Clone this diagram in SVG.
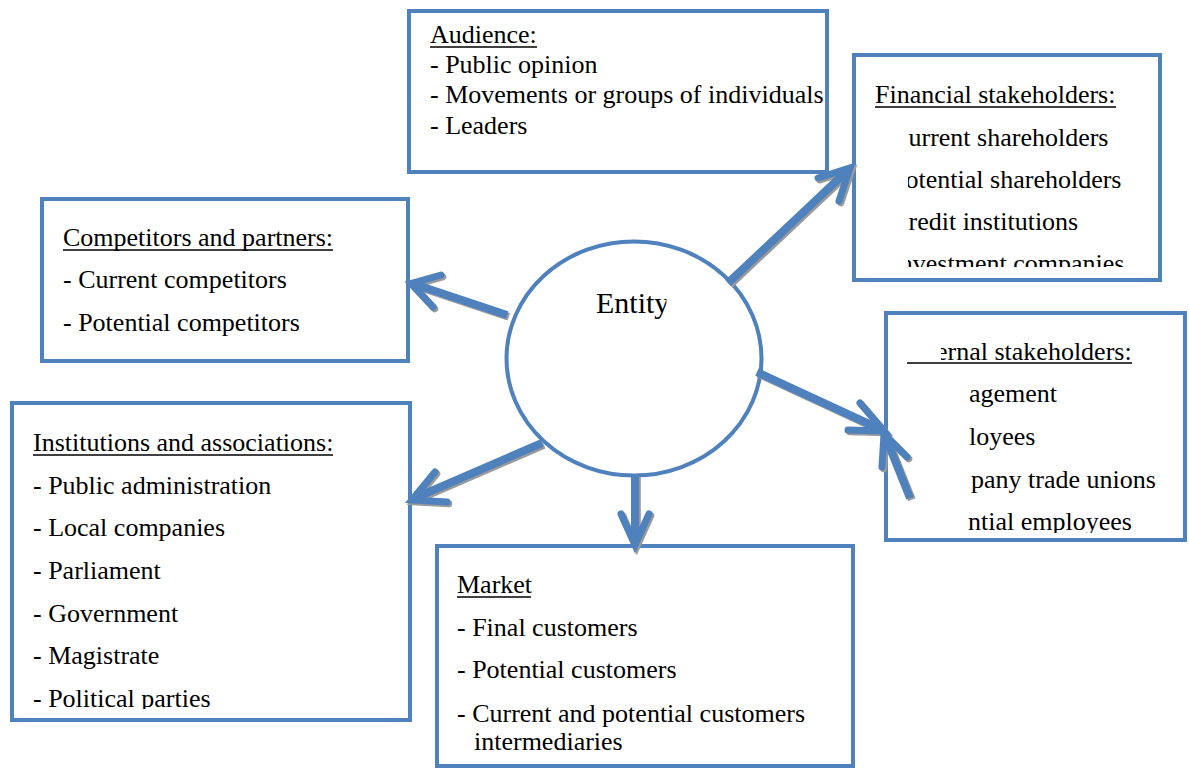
<svg xmlns="http://www.w3.org/2000/svg" xmlns:xlink="http://www.w3.org/1999/xlink" width="1189" height="768" viewBox="0 0 1189 768">
  <style>
    .box { fill: #ffffff; stroke: #4F81BD; stroke-width: 4; }
    .hub { fill: #ffffff; stroke: #4F81BD; stroke-width: 4; }
    .t { font-family: 'Liberation Serif', 'DejaVu Serif', serif; font-size: 26px; fill: #000000; }
    .hubt { font-family: 'Liberation Serif', 'DejaVu Serif', serif; font-size: 30px; fill: #000000; }
    .ul { stroke: #000000; stroke-width: 1.6; }
    .shaft { fill: none; stroke-width: 8; stroke-linecap: butt; }
    .head { fill: none; stroke-width: 7; stroke-linecap: round; stroke-linejoin: miter; stroke-miterlimit: 6; }
    .shadow { stroke: #9a9a9a; }
    .blue { stroke: #4F81BD; }
  </style>
  <defs>
    <clipPath id="clipFin"><rect x="908" y="110" width="250" height="157"/></clipPath>
    <clipPath id="clipIntTitle"><rect x="941" y="330" width="240" height="40"/></clipPath>
    <clipPath id="clipInt"><rect x="967" y="370" width="215" height="163"/></clipPath>
    <clipPath id="clipInst"><rect x="20" y="420" width="385" height="289"/></clipPath>
    <clipPath id="clipHub"><rect x="560" y="270" width="106.5" height="60"/></clipPath>

    <!-- arrow geometry: shaft + open V head -->
    <g id="a1"><path class="shaft" d="M507,315 L414,284"/><path class="head" d="M441,275 L411,283.5 L433,307"/></g>
    <g id="a2"><path class="shaft" d="M542,443 L415,498"/><path class="head" d="M435,472 L412,500 L447,502"/></g>
    <g id="a3"><path class="shaft" d="M635,475 L635,541"/><path class="head" d="M621,514 L635,545 L649,514"/></g>
    <g id="a4"><path class="shaft" d="M728,283 L847,171"/><path class="head" d="M818,178 L850,168 L839,201"/></g>
    <g id="a5"><path class="shaft" d="M757,372 L880,429"/><path class="head" d="M860,403 L884,431 L848,430"/></g>
    <g id="a6"><path class="shaft" d="M910,498 L886,438"/><path class="head" d="M882,467 L884,434 L907,457"/></g>
  </defs>

  <rect width="1189" height="768" fill="#ffffff"/>

  <!-- Audience -->
  <g id="audience">
    <rect class="box" x="409" y="11" width="418" height="161"/>
    <text class="t" x="430" y="43">Audience:</text>
    <line class="ul" x1="430" y1="47" x2="537" y2="47"/>
    <text class="t" x="430" y="73">- Public opinion</text>
    <text class="t" x="430" y="103">- Movements or groups of individuals</text>
    <text class="t" x="430" y="134">- Leaders</text>
  </g>

  <!-- Financial stakeholders -->
  <g id="financial">
    <rect class="box" x="854" y="55" width="306" height="225"/>
    <text class="t" x="875" y="103">Financial stakeholders:</text>
    <line class="ul" x1="875" y1="107" x2="1116" y2="107"/>
    <g clip-path="url(#clipFin)">
      <text class="t" x="908.5" y="146">urrent shareholders</text>
      <text class="t" x="905.6" y="188">otential shareholders</text>
      <text class="t" x="908.5" y="230">redit institutions</text>
      <text class="t" x="899.8" y="272">nvestment companies</text>
    </g>
  </g>

  <!-- Competitors and partners -->
  <g id="competitors">
    <rect class="box" x="42" y="199" width="366" height="162"/>
    <text class="t" x="63" y="246">Competitors and partners:</text>
    <line class="ul" x1="63" y1="250" x2="333" y2="250"/>
    <text class="t" x="63" y="288">- Current competitors</text>
    <text class="t" x="63" y="331">- Potential competitors</text>
  </g>

  <!-- Internal stakeholders -->
  <g id="internal">
    <rect class="box" x="886" y="313" width="299" height="227"/>
    <text class="t" x="936" y="360" clip-path="url(#clipIntTitle)">ernal stakeholders:</text>
    <line class="ul" x1="907" y1="363" x2="1132" y2="363"/>
    <g clip-path="url(#clipInt)">
      <text class="t" x="969" y="402">agement</text>
      <text class="t" x="969" y="445">loyees</text>
      <text class="t" x="971" y="488">pany trade unions</text>
      <text class="t" x="968" y="530">ntial employees</text>
    </g>
  </g>

  <!-- Institutions and associations -->
  <g id="institutions">
    <rect class="box" x="12" y="403" width="398" height="317"/>
    <text class="t" x="33" y="451">Institutions and associations:</text>
    <line class="ul" x1="33" y1="455" x2="333" y2="455"/>
    <g clip-path="url(#clipInst)">
      <text class="t" x="33" y="494">- Public administration</text>
      <text class="t" x="33" y="536">- Local companies</text>
      <text class="t" x="33" y="579">- Parliament</text>
      <text class="t" x="33" y="622">- Government</text>
      <text class="t" x="33" y="664">- Magistrate</text>
      <text class="t" x="33" y="707">- Political parties</text>
    </g>
  </g>

  <!-- Market -->
  <g id="market">
    <rect class="box" x="437" y="546" width="416" height="220"/>
    <text class="t" x="457" y="593">Market</text>
    <line class="ul" x1="457" y1="597" x2="531" y2="597"/>
    <text class="t" x="457" y="636">- Final customers</text>
    <text class="t" x="457" y="678">- Potential customers</text>
    <text class="t" x="457" y="722">- Current and potential customers</text>
    <text class="t" x="474" y="750">intermediaries</text>
  </g>

  <!-- Entity -->
  <g id="entity">
    <ellipse class="hub" cx="634" cy="358.5" rx="127.5" ry="117"/>
    <text class="hubt" x="596" y="313" clip-path="url(#clipHub)">Entity</text>
  </g>

  <!-- connectors -->
  <g id="connectors">
    <g class="shadow" transform="translate(1.8,1.8)">
      <use xlink:href="#a1"/><use xlink:href="#a2"/><use xlink:href="#a3"/>
      <use xlink:href="#a4"/><use xlink:href="#a5"/><use xlink:href="#a6"/>
    </g>
    <g class="blue">
      <use xlink:href="#a1"/><use xlink:href="#a2"/><use xlink:href="#a3"/>
      <use xlink:href="#a4"/><use xlink:href="#a5"/><use xlink:href="#a6"/>
    </g>
  </g>
</svg>
